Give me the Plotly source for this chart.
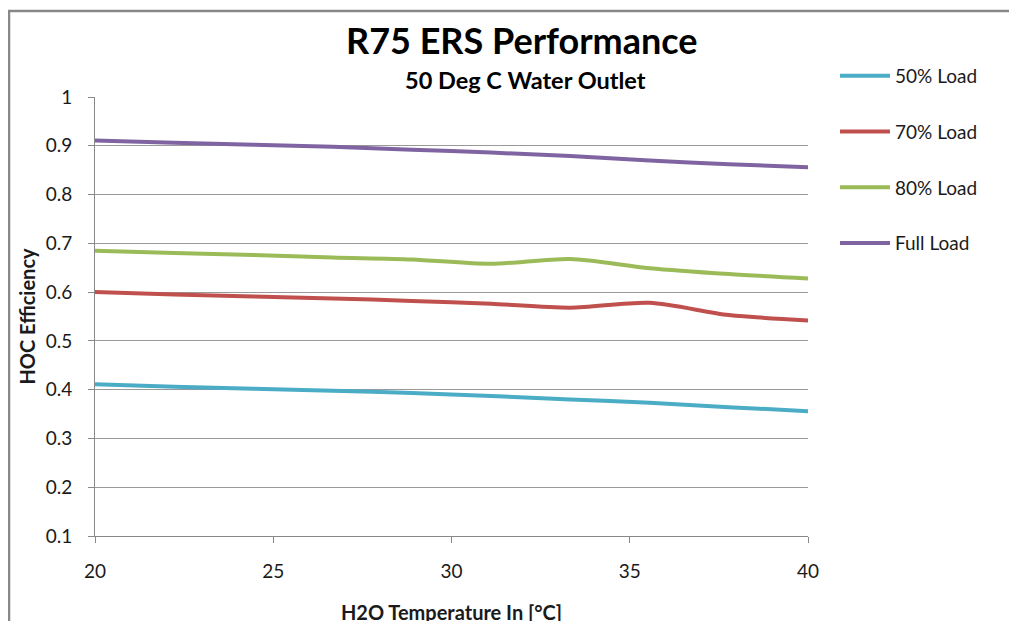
import plotly.graph_objects as go

# x values: water inlet temperatures (68..104 °F in 4 °F steps, expressed in °C)
temps_f = [68, 72, 76, 80, 84, 88, 92, 96, 100, 104]
temps_c = [(f - 32) * 5 / 9 for f in temps_f]

load_50 = [0.411, 0.406, 0.402, 0.398, 0.393, 0.387, 0.380, 0.373, 0.364, 0.356]
load_70 = [0.600, 0.595, 0.591, 0.587, 0.582, 0.576, 0.568, 0.578, 0.553, 0.542]
load_80 = [0.685, 0.680, 0.676, 0.671, 0.667, 0.658, 0.668, 0.649, 0.637, 0.628]
load_full = [0.911, 0.906, 0.902, 0.898, 0.892, 0.886, 0.879, 0.870, 0.862, 0.856]

series_names = ["50% Load", "70% Load", "80% Load", "Full Load"]
series_values = [load_50, load_70, load_80, load_full]
series_colors = ["#4BACC6", "#C0504D", "#9BBB59", "#8064A2"]

x_ticks = [20, 25, 30, 35, 40]
y_ticks = [0.1, 0.2, 0.3, 0.4, 0.5, 0.6, 0.7, 0.8, 0.9, 1]
y_tick_text = ["0.1", "0.2", "0.3", "0.4", "0.5", "0.6", "0.7", "0.8", "0.9", "1"]

FONT = "Lato, 'Open Sans', sans-serif"

# page body has an 8px margin; plot area target (window px): x 95..808, y 97..536
PL, PT, PW, PH = 95, 97, 713, 439


def px(xw):
    return (xw - PL) / PW


def py(yw):
    return (PT + PH - yw) / PH


fig = go.Figure()
for name, vals, col in zip(series_names, series_values, series_colors):
    fig.add_trace(go.Scatter(
        x=temps_c, y=vals, name=name, mode="lines",
        line=dict(color=col, width=4, shape="spline", smoothing=0.8),
        legendgroup=name,
    ))

fig.update_layout(
    width=1017, height=621,
    margin=dict(l=PL - 8, r=1017 - (PL - 8) - PW, t=PT - 8, b=621 - (PT - 8) - PH,
                autoexpand=False),
    paper_bgcolor="white", plot_bgcolor="white",
    font=dict(family=FONT, size=19, color="#1a1a1a"),
    showlegend=True,
    legend=dict(
        x=px(835), y=py(57), xanchor="left", yanchor="top",
        font=dict(size=19, color="#1a1a1a"),
        tracegroupgap=28, traceorder="grouped", itemwidth=50,
        bgcolor="rgba(0,0,0,0)",
    ),
    xaxis=dict(
        range=[20, 40], tickvals=x_ticks, ticks="outside", ticklen=6,
        tickcolor="#888888", showline=True, linecolor="#888888", linewidth=1,
        showgrid=False, zeroline=False, ticklabelstandoff=12, automargin=False,
        tickfont=dict(size=19),
        title=dict(text="<b>H2O Temperature In [°C]</b>", font=dict(size=20), standoff=25),
    ),
    yaxis=dict(
        range=[0.1, 1.0], tickvals=y_ticks, ticktext=y_tick_text, ticks="outside", ticklen=6,
        tickcolor="#888888", showline=True, linecolor="#888888", linewidth=1,
        showgrid=True, gridcolor="#999999", gridwidth=1, zeroline=False,
        ticklabelstandoff=12, automargin=False, tickfont=dict(size=19),
        title=dict(text="<b>HOC Efficiency</b>", font=dict(size=20), standoff=4),
    ),
    annotations=[
        dict(text="<b>R75 ERS Performance</b>", xref="paper", yref="paper",
             x=px(522), y=py(40), xanchor="center", yanchor="middle",
             showarrow=False, font=dict(size=36, color="#000000")),
        dict(text="<b>50 Deg C Water Outlet</b>", xref="paper", yref="paper",
             x=px(525), y=py(80), xanchor="center", yanchor="middle",
             showarrow=False, font=dict(size=23.5, color="#000000")),
    ],
    shapes=[
        dict(type="rect", xref="paper", yref="paper",
             x0=px(9), x1=px(1040), y0=py(650), y1=py(11),
             line=dict(color="#888888", width=2.5), fillcolor="rgba(0,0,0,0)", layer="below"),
    ],
)

fig.write_html("out.html")
